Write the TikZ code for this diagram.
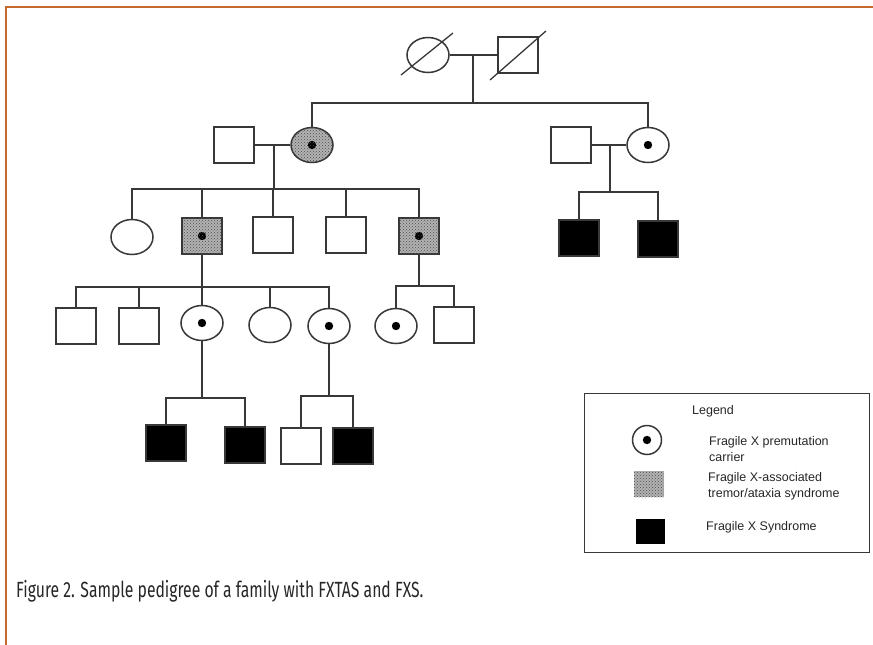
\documentclass[tikz,border=0pt]{standalone}
\usepackage{fontspec}
\setmainfont{Liberation Sans}
\newfontfamily\capfont[FakeStretch=0.715]{Fira Sans}
\usetikzlibrary{shapes.geometric,patterns,positioning,calc}
\definecolor{rim}{HTML}{C46A2E}
\definecolor{ink}{HTML}{383838}

\begin{document}
\begin{tikzpicture}[x=1pt,y=-1pt,
  kin/.style={draw=ink,line width=1.6pt},
  male/.style={rectangle,draw=ink,line width=1.6pt,fill=white,minimum width=40pt,
               minimum height=36pt,inner sep=0pt},
  female/.style={ellipse,draw=ink,line width=1.5pt,fill=white,minimum width=42pt,
                 minimum height=35pt,inner sep=0pt},
  carrier/.style={path picture={\fill[black] (path picture bounding box.center) circle (4.2pt);}},
  stipple/.style={fill=gray!60,postaction={pattern=crosshatch dots,pattern color=black!70}},
  ftxas/.style={stipple,carrier},
  fxs/.style={fill=black},
  keytext/.style={anchor=west,align=left,inner sep=0pt,text=black!85,
                  font=\fontsize{12.5}{16}\selectfont}
]
\useasboundingbox (0,0) rectangle (873,645);
\draw[rim,line width=2.5pt] (873,7) -- (6,7) -- (6,645);

% generation I
\node[female] (i1) at (428,55) {};
\node[male] (i2) at (518,55) {};
\draw[kin,line width=1.3pt] ([shift={(-27,20)}]i1.center) -- ([shift={(25,-22)}]i1.center);
\draw[kin,line width=1.3pt] ([shift={(-28,25)}]i2.center) -- ([shift={(28,-24)}]i2.center);

% generation II
\node[male] (ii1) at (234,145) {};
\node[female,ftxas] (ii2) at (312,145) {};
\node[male] (ii3) at (571,145) {};
\node[female,carrier] (ii4) at (648,145) {};

% generation III
\node[female] (iii1) at (132,237) {};
\node[male,ftxas] (iii2) at (202,236) {};
\node[male] (iii3) at (273,235) {};
\node[male] (iii4) at (346,235) {};
\node[male,ftxas] (iii5) at (419,236) {};
\node[male,fxs] (iii6) at (579,238) {};
\node[male,fxs] (iii7) at (658,239) {};

% generation IV
\node[male] (iv1) at (76,326) {};
\node[male] (iv2) at (139,326) {};
\node[female,carrier] (iv3) at (202,323) {};
\node[female] (iv4) at (270,325) {};
\node[female,carrier] (iv5) at (329,326) {};
\node[female,carrier] (iv6) at (396,326) {};
\node[male] (iv7) at (454,325) {};

% generation V
\node[male,fxs] (v1) at (166,443) {};
\node[male,fxs] (v2) at (245,445) {};
\node[male] (v3) at (301,446) {};
\node[male,fxs] (v4) at (353,446) {};

% lines of descent
\coordinate (s1) at (473,103);
\draw[kin] (i1) -- (i2);
\draw[kin] (s1 |- i1) -- (s1);
\draw[kin] (ii2.north) |- (s1) -| (ii4.north);

\coordinate (s2) at (274,189);
\draw[kin] (ii1) -- (ii2);
\draw[kin] (s2 |- ii1) -- (s2);
\draw[kin] (iii1.north) |- (s2) -| (iii5.north);
\foreach \c in {iii2,iii3,iii4} \draw[kin] (\c.north) -- (\c.north |- s2);

\coordinate (s3) at (610,192);
\draw[kin] (ii3) -- (ii4);
\draw[kin] (s3 |- ii3) -- (s3);
\draw[kin] (iii6.north) |- (s3) -| (iii7.north);

\coordinate (s4) at (202,287);
\draw[kin] (iii2.south) -- (s4);
\draw[kin] (iv1.north) |- (s4) -| (iv5.north);
\foreach \c in {iv2,iv4} \draw[kin] (\c.north) -- (\c.north |- s4);
\draw[kin] (s4) -- (iv3.north);

\coordinate (s5) at (419,286);
\draw[kin] (iii5.south) -- (s5);
\draw[kin] (iv6.north) |- (s5) -| (iv7.north);

\coordinate (s6) at (204,398);
\draw[kin] (iv3.south) -- (iv3.south |- s6);
\draw[kin] (v1.north) |- (s6) -| (v2.north);

\coordinate (s7) at (329,396);
\draw[kin] (iv5.south) -- (s7);
\draw[kin] (v3.north) |- (s7) -| (v4.north);

% legend
\node[draw=ink,line width=1.4pt,anchor=north west,minimum width=285pt,minimum height=159pt]
  (key) at (584,393) {};
\node[inner sep=0pt,text=black!85,font=\fontsize{12.5}{16}\selectfont] (keytitle) at (713,411) {Legend};
\node[female,carrier,minimum width=29pt,minimum height=29pt] (keycarrier) at (647,440) {};
\node[keytext] (keycarriertext) at (709,449) {Fragile X premutation\\carrier};
\node[stipple,minimum width=30pt,minimum height=26pt,inner sep=0pt] (keyftxas) at (649,484) {};
\node[keytext] (keyftxastext) at (708,486) {Fragile X-associated\\tremor/ataxia syndrome};
\node[fxs,minimum width=29pt,minimum height=25pt,inner sep=0pt] (keyfxs) at (650,531) {};
\node[keytext] (keyfxstext) at (706,527) {Fragile X Syndrome};

% caption
\node[anchor=west,inner sep=0pt,text=black!85,font=\capfont\fontsize{22}{26}\selectfont]
  (caption) at (16,591) {Figure 2. Sample pedigree of a family with FXTAS and FXS.};
\end{tikzpicture}
\end{document}
